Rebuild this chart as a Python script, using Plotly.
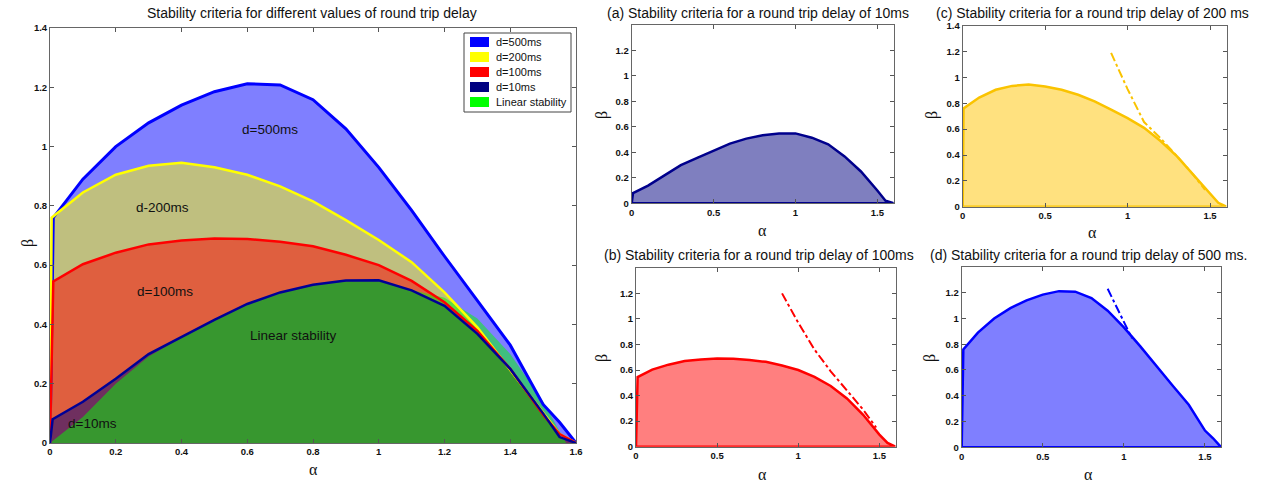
import plotly.graph_objects as go

# ---------------- data ----------------
alpha_500 = [0, 0.01, 0.1, 0.2, 0.3, 0.4, 0.5, 0.6, 0.7, 0.8, 0.9, 1.0, 1.1, 1.2, 1.3, 1.4, 1.5, 1.55, 1.6]
beta_500 = [0, 0.76, 0.89, 1.0, 1.08, 1.14, 1.185, 1.212, 1.208, 1.158, 1.06, 0.93, 0.785, 0.63, 0.48, 0.33, 0.13, 0.07, 0]

alpha_200 = [0, 0.005, 0.1, 0.2, 0.3, 0.4, 0.5, 0.6, 0.7, 0.8, 0.9, 1.0, 1.1, 1.2, 1.3, 1.4, 1.5, 1.55, 1.6]
beta_200 = [0, 0.76, 0.845, 0.905, 0.935, 0.945, 0.93, 0.905, 0.866, 0.815, 0.752, 0.685, 0.61, 0.508, 0.39, 0.245, 0.1, 0.03, 0]

alpha_100 = [0, 0.01, 0.1, 0.2, 0.3, 0.4, 0.5, 0.6, 0.7, 0.8, 0.9, 1.0, 1.1, 1.2, 1.3, 1.4, 1.5, 1.55, 1.6]
beta_100 = [0, 0.545, 0.603, 0.642, 0.67, 0.683, 0.69, 0.688, 0.679, 0.664, 0.635, 0.6, 0.547, 0.475, 0.378, 0.25, 0.095, 0.03, 0]

alpha_10 = [0, 0.008, 0.1, 0.2, 0.3, 0.4, 0.5, 0.6, 0.7, 0.8, 0.9, 1.0, 1.1, 1.2, 1.3, 1.4, 1.5, 1.55, 1.6]
beta_10 = [0, 0.08, 0.139, 0.217, 0.3, 0.357, 0.415, 0.469, 0.508, 0.534, 0.548, 0.549, 0.515, 0.463, 0.368, 0.25, 0.1, 0.02, 0]

alpha_lin = [0, 0.1, 0.2, 0.3, 0.4, 0.5, 0.6, 0.7, 0.8, 0.9, 1.0, 1.1, 1.2, 1.3, 1.4, 1.5, 1.57]
beta_lin = [0, 0.088, 0.2, 0.292, 0.355, 0.413, 0.467, 0.506, 0.532, 0.546, 0.547, 0.516, 0.49, 0.42, 0.3, 0.14, 0]

# dash-dot approximations in panels (b), (c), (d)
alpha_dd_100 = [0.9, 1.0, 1.1, 1.2, 1.3, 1.4, 1.48]
beta_dd_100 = [1.2, 0.97, 0.76, 0.59, 0.44, 0.29, 0.15]
alpha_dd_200 = [0.9, 1.0, 1.1, 1.2, 1.3, 1.4, 1.47]
beta_dd_200 = [1.19, 0.91, 0.655, 0.53, 0.39, 0.245, 0.13]
alpha_dd_500 = [0.9, 0.95, 1.0, 1.05]
beta_dd_500 = [1.23, 1.1, 0.97, 0.845]

legend_labels = ["d=500ms", "d=200ms", "d=100ms", "d=10ms", "Linear stability"]
legend_colors = ["rgb(0,0,255)", "rgb(255,255,0)", "rgb(255,0,0)", "rgb(0,0,128)", "rgb(0,255,0)"]

main_x_ticks = [0, 0.2, 0.4, 0.6, 0.8, 1, 1.2, 1.4, 1.6]
main_y_ticks = [0, 0.2, 0.4, 0.6, 0.8, 1, 1.2, 1.4]
panel_x_ticks = [0, 0.5, 1, 1.5]
panel_y_ticks = [0, 0.2, 0.4, 0.6, 0.8, 1, 1.2]
panel_y_ticks_c = [0, 0.2, 0.4, 0.6, 0.8, 1, 1.2, 1.4]

# ---------------- figure ----------------
fig = go.Figure()

def closed(a, b):
    return list(a) + [a[0]], list(b) + [b[0]]

main_series = [
    (alpha_500, beta_500, "rgba(0,0,255,0.5)", "rgb(0,0,255)", 3),
    (alpha_200, beta_200, "rgba(255,255,0,0.5)", "rgb(255,255,0)", 2.5),
    (alpha_100, beta_100, "rgba(255,0,0,0.5)", "rgb(255,0,0)", 2.5),
    (alpha_10, beta_10, "rgba(0,0,128,0.5)", "rgb(0,0,150)", 2.5),
    (alpha_lin, beta_lin, "rgba(0,255,0,0.5)", None, 0),
]
# fills
for a, b, fc, lc, lw in main_series:
    xs, ys = closed(a, b)
    fig.add_trace(go.Scatter(x=xs, y=ys, fill="toself", fillcolor=fc, mode="lines",
                             line=dict(width=0), showlegend=False, hoverinfo="skip",
                             xaxis="x", yaxis="y"))
# edge lines on top
for a, b, fc, lc, lw in main_series:
    if lc is None:
        continue
    fig.add_trace(go.Scatter(x=a, y=b, mode="lines", line=dict(color=lc, width=lw),
                             showlegend=False, hoverinfo="skip", xaxis="x", yaxis="y"))

# panels
panels = [
    ("x2", "y2", alpha_10, beta_10, "rgba(0,0,128,0.5)", "rgb(0,0,140)", None, None),
    ("x3", "y3", alpha_200, beta_200, "rgba(255,195,0,0.5)", "rgb(250,195,0)", alpha_dd_200, beta_dd_200),
    ("x4", "y4", alpha_100, beta_100, "rgba(255,0,0,0.5)", "rgb(255,0,0)", alpha_dd_100, beta_dd_100),
    ("x5", "y5", alpha_500, beta_500, "rgba(0,0,255,0.5)", "rgb(0,0,255)", alpha_dd_500, beta_dd_500),
]
for xa, ya, a, b, fc, lc, da, db in panels:
    xs, ys = closed(a, b)
    fig.add_trace(go.Scatter(x=xs, y=ys, fill="toself", fillcolor=fc, mode="lines",
                             line=dict(color=lc, width=2.5), showlegend=False,
                             hoverinfo="skip", xaxis=xa, yaxis=ya))
    if da is not None:
        fig.add_trace(go.Scatter(x=da, y=db, mode="lines",
                                 line=dict(color=lc, width=2, dash="dashdot"),
                                 showlegend=False, hoverinfo="skip", xaxis=xa, yaxis=ya))

W, H = 1261, 483

def px_x(p):
    return p / W

def px_y(p):
    return (H - p) / H

tickfont = dict(family="Liberation Sans", size=9.5, color="#111", weight="bold")

def xax(domain, ticks, anchor, tt=None):
    return dict(domain=domain, range=[0, 1.6], tickvals=ticks, ticktext=tt,
                ticks="inside", ticklen=4, tickcolor="#555", mirror="ticks",
                showline=True, linecolor="#666", linewidth=1, showgrid=False,
                zeroline=False, tickfont=tickfont, anchor=anchor, fixedrange=True,
                automargin=False)

def yax(domain, ticks, anchor, rng=(0, 1.4)):
    return dict(domain=domain, range=list(rng), tickvals=ticks,
                ticks="inside", ticklen=4, tickcolor="#555", mirror="ticks",
                showline=True, linecolor="#666", linewidth=1, showgrid=False,
                zeroline=False, tickfont=tickfont, anchor=anchor, fixedrange=True,
                automargin=False)

main_tt = ["0", "0.2", "0.4", "0.6", "0.8", "1", "1.2", "1.4", "1.6"]
panel_tt = ["0", "0.5", "1", "1.5"]

fig.update_layout(
    width=W, height=H,
    autosize=False,
    margin=dict(l=0, r=0, t=0, b=0, pad=0, autoexpand=False),
    paper_bgcolor="white", plot_bgcolor="white",
    font=dict(family="Liberation Sans", size=12, color="#111"),
    xaxis=xax([px_x(50), px_x(576)], main_x_ticks, "y", main_tt),
    yaxis=yax([px_y(443), px_y(28)], main_y_ticks, "x"),
    xaxis2=xax([px_x(631.7), px_x(893.7)], panel_x_ticks, "y2", panel_tt),
    yaxis2=yax([px_y(203.3), px_y(25)], panel_y_ticks, "x2"),
    xaxis3=xax([px_x(962.7), px_x(1226.5)], panel_x_ticks, "y3", panel_tt),
    yaxis3=yax([px_y(206.7), px_y(25.8)], panel_y_ticks_c, "x3"),
    xaxis4=xax([px_x(636), px_x(895.6)], panel_x_ticks, "y4", panel_tt),
    yaxis4=yax([px_y(446.7), px_y(267.8)], panel_y_ticks, "x4"),
    xaxis5=xax([px_x(961.7), px_x(1221.2)], panel_x_ticks, "y5", panel_tt),
    yaxis5=yax([px_y(447.3), px_y(266.9)], panel_y_ticks, "x5"),
    showlegend=False,
)

ann = []
shapes = []
def text(xp, yp, s, size=13, family="Liberation Sans", angle=0, xanchor="center"):
    ann.append(dict(x=px_x(xp), y=px_y(yp), xref="paper", yref="paper", text=s,
                    showarrow=False, xanchor=xanchor, yanchor="middle",
                    textangle=angle, font=dict(family=family, size=size, color="#111")))

# custom legend box (MATLAB style)
shapes.append(dict(type="rect", xref="paper", yref="paper",
                   x0=px_x(464), x1=px_x(571), y0=px_y(112), y1=px_y(33),
                   line=dict(color="#444", width=1), fillcolor="white", layer="above"))
for i, (lab, col) in enumerate(zip(legend_labels, legend_colors)):
    cy = 42 + 15 * i
    shapes.append(dict(type="rect", xref="paper", yref="paper",
                       x0=px_x(470), x1=px_x(489), y0=px_y(cy + 5), y1=px_y(cy - 5),
                       line=dict(width=0), fillcolor=col, layer="above"))
    text(494, cy, lab, 11, xanchor="left")

# titles
text(311.5, 13, "Stability criteria for different values of round trip delay", 14)
text(758, 13, "(a) Stability criteria for a round trip delay of 10ms", 14)
text(1092, 13, "(c) Stability criteria for a round trip delay of 200 ms", 14)
text(758.5, 255, "(b) Stability criteria for a round trip delay of 100ms", 14)
text(1088, 255, "(d) Stability criteria for a round trip delay of 500 ms.", 14)

# axis labels
serif = "Liberation Serif"
text(313, 469, "α", 16, serif)
text(28, 243, "β", 16, serif, -90)
text(762, 230, "α", 16, serif)
text(602, 115, "β", 16, serif, -90)
text(1092, 232, "α", 16, serif)
text(932, 115, "β", 16, serif, -90)
text(762, 474, "α", 16, serif)
text(602, 358, "β", 16, serif, -90)
text(1088, 474, "α", 16, serif)
text(930, 358, "β", 16, serif, -90)

# region labels in main chart (data coordinates)
for xv, yv, s in [(0.67, 1.057, "d=500ms"), (0.343, 0.793, "d-200ms"),
                  (0.35, 0.51, "d=100ms"), (0.74, 0.362, "Linear stability"),
                  (0.13, 0.066, "d=10ms")]:
    ann.append(dict(x=xv, y=yv, xref="x", yref="y", text=s, showarrow=False,
                    xanchor="center", yanchor="middle",
                    font=dict(family="Liberation Sans", size=13.5, color="#111")))

fig.update_layout(annotations=ann, shapes=shapes)
fig.write_html("out.html", config={"displayModeBar": False},
               post_script="document.body.style.margin='0px';document.body.style.padding='0px';")
